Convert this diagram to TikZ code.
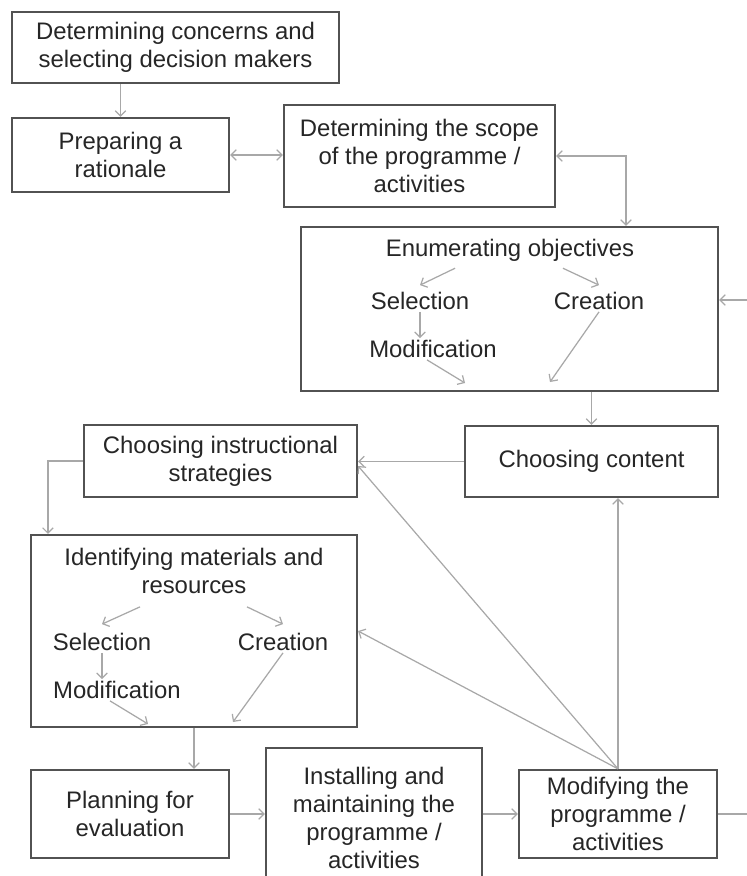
\documentclass[tikz,border=0pt]{standalone}
\usepackage{fontspec}
\setmainfont{Liberation Sans}
\usetikzlibrary {positioning}
\usetikzlibrary{arrows.meta}
\definecolor{boxgray}{rgb}{0.32,0.32,0.32}
\definecolor{linkgray}{rgb}{0.66,0.66,0.66}
\definecolor{textgray}{rgb}{0.15,0.15,0.15}

\tikzset{
  box/.style={draw=boxgray, line width=1.3pt, fill=white, inner sep=0pt,
    align=center, text=textgray, font=\fontsize{13.6}{15.9}\selectfont},
  sub/.style={inner sep=1pt, align=center, text=textgray,
    font=\fontsize{13.6}{15.9}\selectfont},
  link/.style={draw=linkgray, line width=0.7pt,
    -{Straight Barb[length=3pt,width=6pt]}},
  twoway/.style={link,
    {Straight Barb[length=3pt,width=6pt]}-{Straight Barb[length=3pt,width=6pt]}},
  bare/.style={draw=linkgray, line width=0.7pt}
}

\begin{document}
\begin{tikzpicture}[x=0.02cm, y=-0.02cm]

  \useasboundingbox (0,0) rectangle (747,876);
  \clip (0,0) rectangle (747,876);

  % top part
  \node[box, minimum width=6.54cm, minimum height=1.42cm] (concerns) at (175.5,47.5)
    {Determining concerns and\\selecting decision makers};
  \node[box, minimum width=4.34cm, minimum height=1.48cm] (rationale) at (120.5,155)
    {Preparing a\\rationale};
  \node[box, minimum width=5.42cm, minimum height=2.04cm] (scope) at (419.5,156)
    {Determining the scope\\of the programme /\\activities};

  % objectives
  \node[box, minimum width=8.34cm, minimum height=3.28cm] (objectives) at (509.5,309) {};
  \node[sub] (objhead) at (510,250) {Enumerating objectives};
  \node[sub] (objsel) at (420,301) {Selection};
  \node[sub] (objcre) at (599,301) {Creation};
  \node[sub] (objmod) at (433,349) {Modification};
  \coordinate (objend1) at (465,383);
  \coordinate (objend2) at (550,382);

  % middle row
  \node[box, minimum width=5.06cm, minimum height=1.42cm] (content) at (591.5,461.5)
    {Choosing content};
  \node[box, minimum width=5.46cm, minimum height=1.44cm] (strategies) at (220.5,461)
    {Choosing instructional\\strategies};

  % materials
  \node[box, minimum width=6.52cm, minimum height=3.84cm] (materials) at (194,631) {};
  \node[sub] (mathead) at (194,571) {Identifying materials and\\resources};
  \node[sub] (matsel) at (102,642) {Selection};
  \node[sub] (matcre) at (283,642) {Creation};
  \node[sub] (matmod) at (117,690) {Modification};
  \coordinate (matend1) at (148,724);
  \coordinate (matend2) at (233,722);

  % bottom row
  \node[box, minimum width=3.96cm, minimum height=1.76cm] (evaluation) at (130,814)
    {Planning for\\evaluation};
  \node[box, minimum width=4.32cm, minimum height=2.8cm] (installing) at (374,818)
    {Installing and\\maintaining the\\programme /\\activities};
  \node[box, minimum width=3.96cm, minimum height=1.76cm] (modifying) at (618,814)
    {Modifying the\\programme /\\activities};

  \coordinate (edgein) at (747,300);
  \coordinate (edgeout) at (747,814);

  % main flow
  \draw[link] (concerns.south -| rationale.north) -- (rationale.north);
  \draw[twoway] (rationale.east) -- (rationale.east -| scope.west);
  \draw[twoway] (scope.east) -| ([xshift=2.33cm]objectives.north);
  \draw[link] (objectives.south -| content.north) -- (content.north);
  \draw[link] (content.west) -- (content.west -| strategies.east);
  \draw[link] (strategies.west) -| ([xshift=0.36cm]materials.north west);
  \draw[link] (materials.south) -- (materials.south |- evaluation.north);
  \draw[link] (evaluation.east) -- (evaluation.east -| installing.west);
  \draw[link] (installing.east |- modifying.west) -- (modifying.west);

  % feedback
  \draw[link] (modifying.north) -- (modifying.north |- content.south);
  \draw[link] (modifying.north) -- ([yshift=-0.1cm]strategies.east);
  \draw[link] (modifying.north) -- (materials.east);
  \draw[bare] (modifying.east) -- (modifying.east -| edgeout);
  \draw[link] (edgein) -- (edgein -| objectives.east);

  % inside the objectives box
  \draw[link] ([xshift=-1.1cm,yshift=-0.1cm]objhead.south) -- ([yshift=0.1cm]objsel.north);
  \draw[link] ([xshift=1.06cm,yshift=-0.1cm]objhead.south) -- ([yshift=0.1cm]objcre.north);
  \draw[link] (objsel.south) -- (objsel.south |- objmod.north);
  \draw[link] ([xshift=-0.12cm]objmod.south) -- (objend1);
  \draw[link] (objcre.south) -- (objend2);

  % inside the materials box
  \draw[link] ([xshift=-1.08cm,yshift=-0.22cm]mathead.south) -- ([yshift=0.14cm]matsel.north);
  \draw[link] ([xshift=1.06cm,yshift=-0.22cm]mathead.south) -- ([yshift=0.14cm]matcre.north);
  \draw[link] (matsel.south) -- (matsel.south |- matmod.north);
  \draw[link] ([xshift=-0.14cm]matmod.south) -- (matend1);
  \draw[link] (matcre.south) -- (matend2);

\end{tikzpicture}
\end{document}
